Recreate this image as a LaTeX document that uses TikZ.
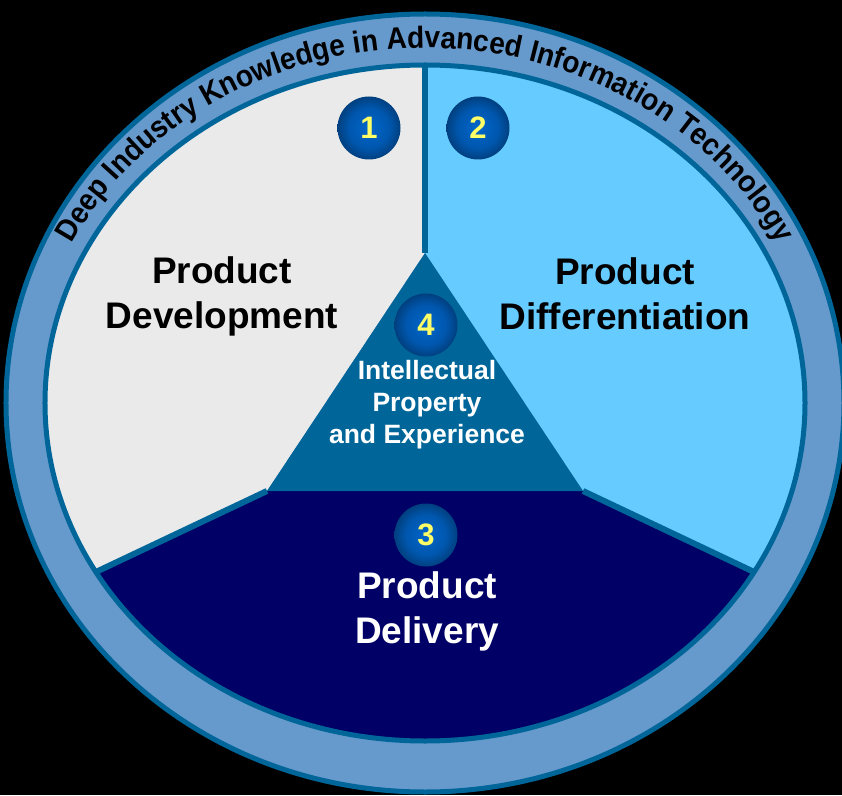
\documentclass[tikz,border=0pt]{standalone}
\usepackage{fontspec}
\setmainfont{Liberation Sans}
\newfontfamily\arcfont[FakeStretch=0.92]{Liberation Sans}
\usetikzlibrary{decorations.text}
\definecolor{ring}{HTML}{6699CC}
\definecolor{edge}{HTML}{006699}
\definecolor{devgray}{HTML}{EAEAEA}
\definecolor{diffcyan}{HTML}{66CCFF}
\definecolor{delnavy}{HTML}{000066}
\definecolor{ballblue}{HTML}{0066CC}
\definecolor{numyellow}{HTML}{FFFF66}
\pgfdeclareradialshading{ballshade}{\pgfpoint{0bp}{0bp}}{color(0bp)=(ballblue); color(16bp)=(ballblue!85!black); color(32bp)=(ballblue!45!black); color(44bp)=(ballblue!12!black); color(50bp)=(black)}
\begin{document}
\begin{tikzpicture}[x=1pt,y=1pt]
    \tikzstyle{ball}=[circle,minimum size=63pt,inner sep=0pt,shade,shading=ballshade,text=numyellow,font=\fontsize{31}{31}\selectfont\bfseries]
    \tikzstyle{sector}=[align=center,font=\fontsize{37}{45}\selectfont\bfseries]
    \tikzstyle{divider}=[edge,line width=6pt]
    % page and outer ring
    \fill[black] (-425,-392) rectangle (417,403);
    \useasboundingbox (-425,-392) rectangle (417,403);
    \filldraw[fill=ring,draw=edge,line width=5pt] (0,0) ellipse [x radius=419,y radius=389];
    \path[decorate,decoration={text along path,text align=center,
        text={|\fontsize{30.5}{30.5}\arcfont\bfseries|Deep Industry Knowledge in Advanced Information Technology}}]
      ({395*cos(162)},{355*sin(162)}) arc[start angle=162,end angle=18,x radius=395,y radius=355];
    % the three sectors
    \begin{scope}
      \clip (0,0) ellipse [x radius=380,y radius=338];
      \fill[devgray] (0,400) -- (0,150) -- (-158,-88) -- (-496,-248) -- (-500,400) -- cycle;
      \fill[diffcyan] (0,400) -- (0,150) -- (158,-88) -- (496,-248) -- (500,400) -- cycle;
      \fill[delnavy] (-496,-248) -- (-158,-88) -- (158,-88) -- (496,-248) -- (496,-400) -- (-496,-400) -- cycle;
      \fill[edge] (0,150) -- (158,-88) -- (-158,-88) -- cycle;
      \draw[divider] (0,400) -- (0,150);
      \draw[divider] (-158,-88) -- (-496,-248);
      \draw[divider] (158,-88) -- (496,-248);
    \end{scope}
    \draw[edge,line width=5pt] (0,0) ellipse [x radius=380,y radius=338];
    % labels
    \node[sector] (dev) at (-203,107) {Product\\Development};
    \node[sector] (diff) at (200,109) {Product\\Differentiation};
    \node[sector,text=white] (del) at (2,-208) {Product\\Delivery};
    \node[align=center,text=white,font=\fontsize{26.5}{32}\selectfont\bfseries] (ip) at (2,-2) {Intellectual\\Property\\and Experience};
    % numbered balls
    \node[ball] (b1) at (-56,275) {1};
    \node[ball] (b2) at (53,275) {2};
    \node[ball] (b4) at (1,78) {4};
    \node[ball] (b3) at (1,-132) {3};
\end{tikzpicture}
\end{document}
